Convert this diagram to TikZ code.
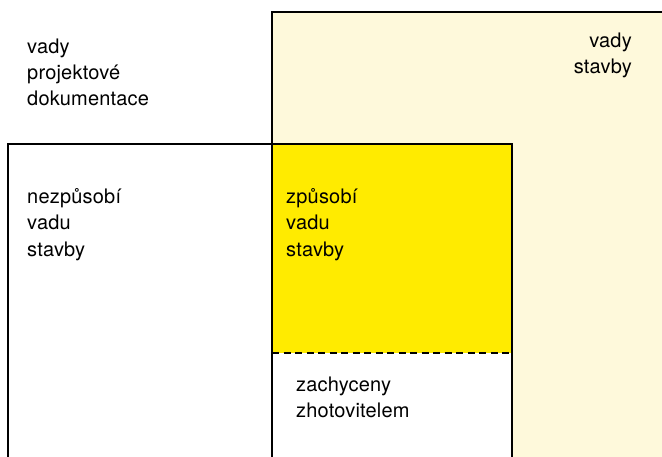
\documentclass[tikz,border=0pt]{standalone}
\usepackage{fontspec}
\setmainfont[LetterSpace=1]{TeX Gyre Heros}
\usetikzlibrary{positioning}
\definecolor{palered}{HTML}{FEF9DB}
\definecolor{strongyellow}{HTML}{FFEB00}

\begin{document}
\begin{tikzpicture}[x=1pt,y=1pt,
    frame/.style={line width=2.8pt},
    label/.style={inner sep=0pt, anchor=base west, align=left,
      font=\fontsize{20}{26.3}\selectfont}]
  \useasboundingbox (0,0) rectangle (662,456);
  % vady stavby
  \fill[palered] (272,-5) rectangle (670,444);
  \draw[frame] (272,-5) -- (272,444) -- (670,444);
  % nezpusobi / zpusobi
  \fill[white] (8,-5) rectangle (512,312);
  \fill[strongyellow] (272,103) rectangle (512,312);
  \draw[frame] (8,-5) rectangle (512,312);
  \draw[frame] (272,-5) -- (272,312);
  \draw[frame, dash pattern=on 7pt off 4.5pt] (272,103) -- (512,103);
  % texts (anchored at the last line)
  \node[label] (projekt) at (27,350.3) {vady\\projektové\\dokumentace};
  \node[label, anchor=base east, align=right] (stavba) at (632,382) {vady\\stavby};
  \node[label] (nezpusobi) at (27,200) {nezpůsobí\\vadu\\stavby};
  \node[label] (zpusobi) at (286,200) {způsobí\\vadu\\stavby};
  \node[label] (zachyceny) at (296,38.7) {zachyceny\\zhotovitelem};
\end{tikzpicture}
\end{document}
